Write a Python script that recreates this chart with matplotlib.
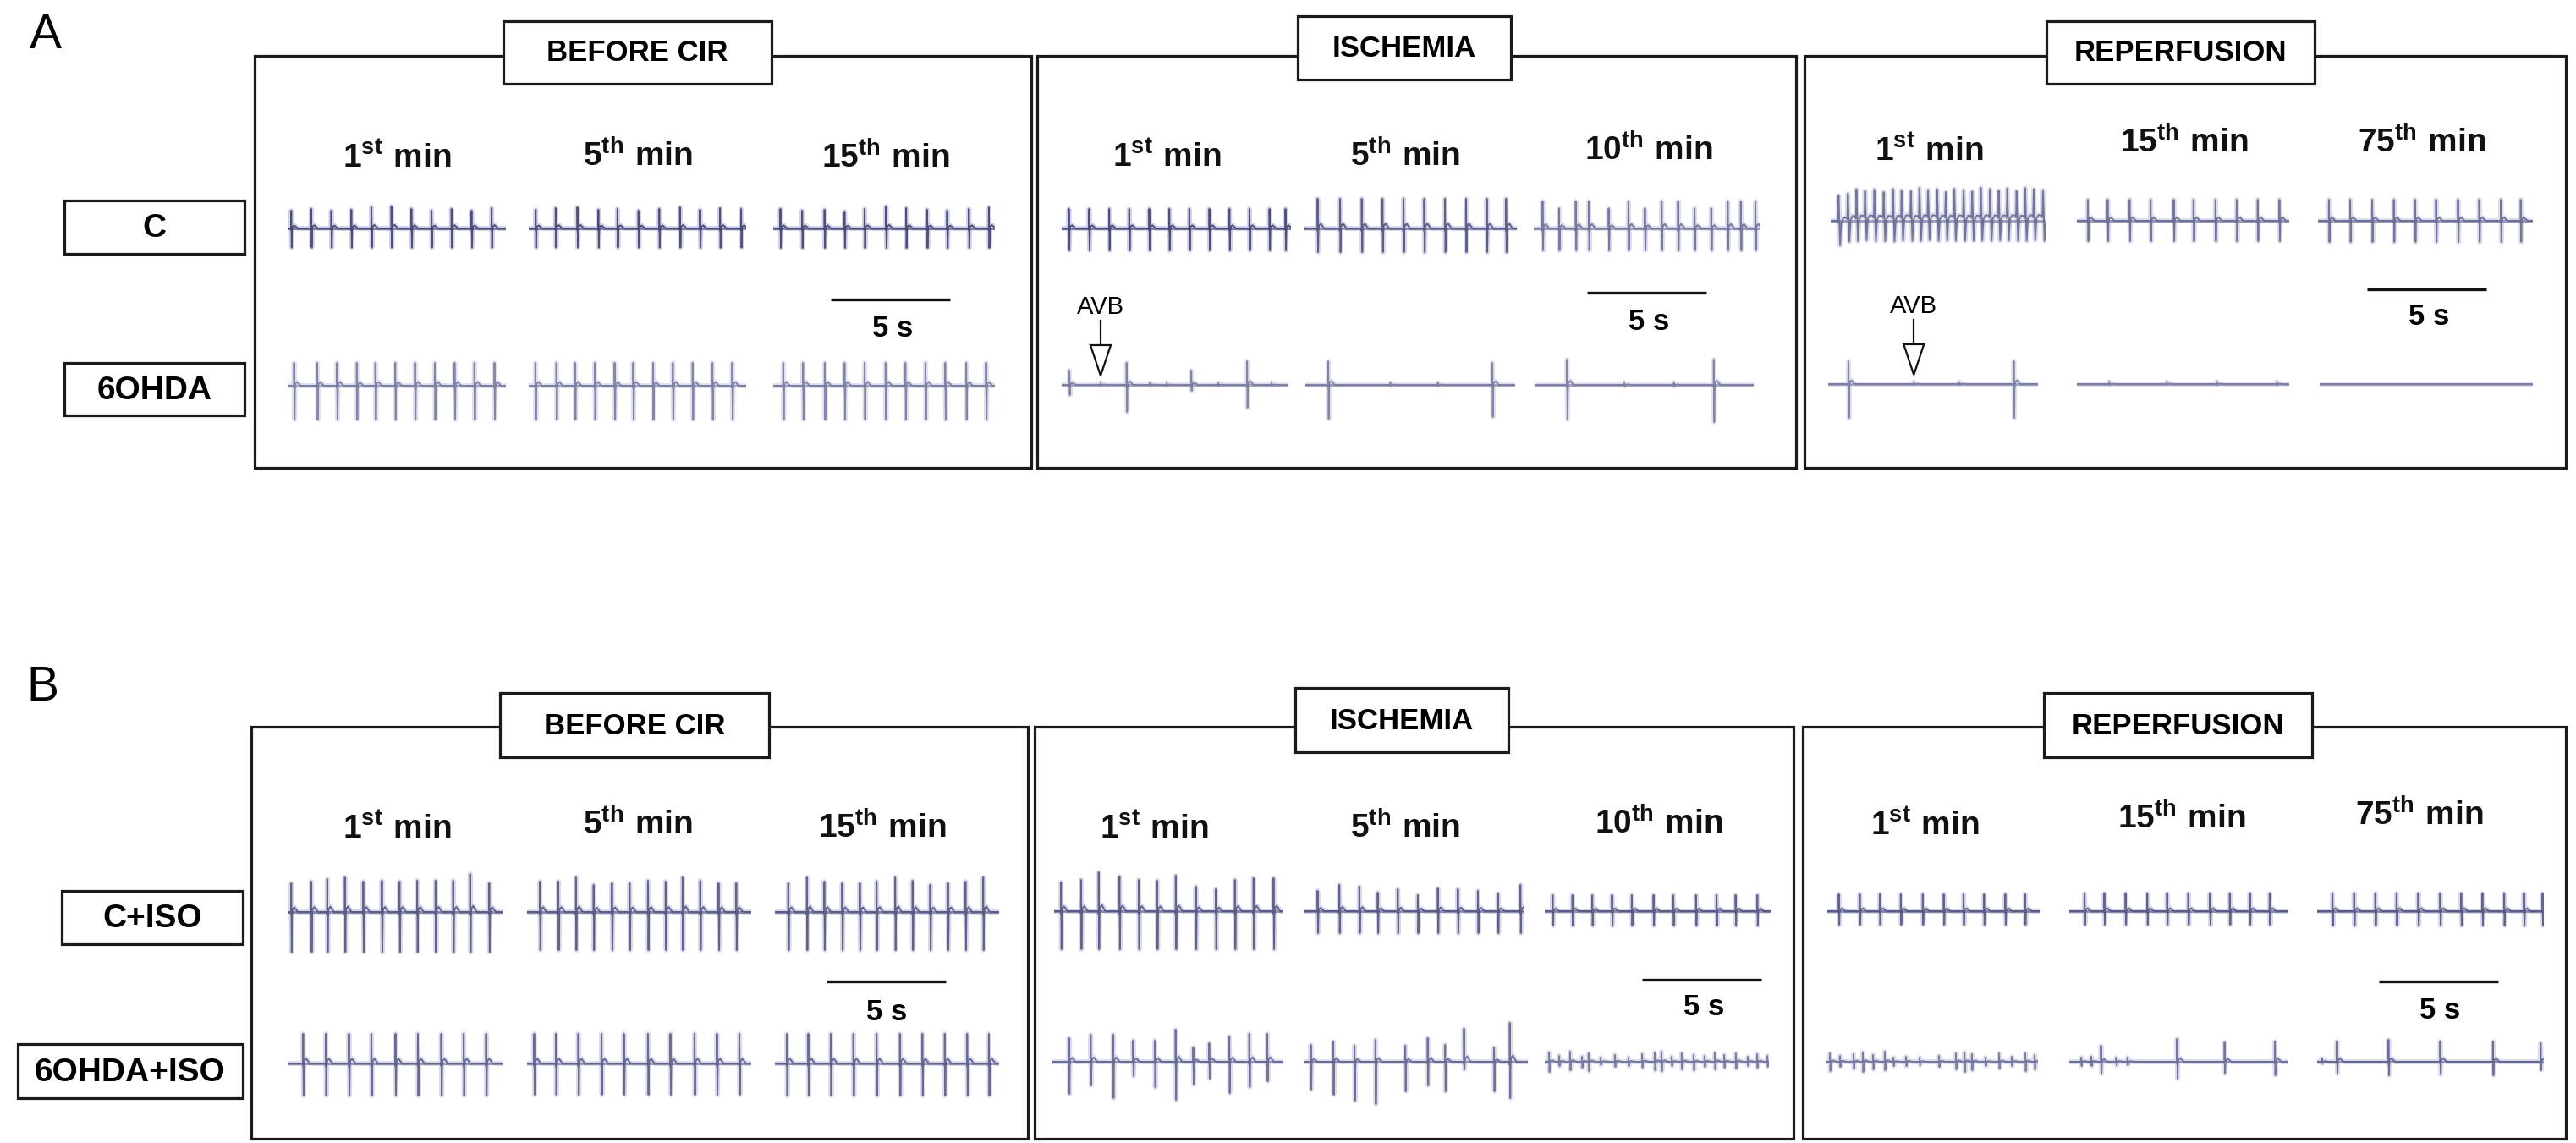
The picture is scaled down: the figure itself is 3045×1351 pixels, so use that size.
import numpy as np
import matplotlib
matplotlib.use('Agg')
import matplotlib.pyplot as plt
from matplotlib import font_manager
from matplotlib.patches import Rectangle, Polygon

# fonts: narrow bold for the headers if we have it
names = {f.name for f in font_manager.fontManager.ttflist}
NARROW = 'Liberation Sans Narrow' if 'Liberation Sans Narrow' in names else 'Liberation Sans'
plt.rcParams['font.family'] = ['Liberation Sans', 'DejaVu Sans']
plt.rcParams['mathtext.fontset'] = 'custom'
plt.rcParams['mathtext.rm'] = NARROW
plt.rcParams['mathtext.bf'] = NARROW + ':bold'

# ---------------- data ----------------
phases = ['BEFORE CIR', 'ISCHEMIA', 'REPERFUSION']
minutes = [('1', 'st'), ('5', 'th'), ('15', 'th'),
           ('1', 'st'), ('5', 'th'), ('10', 'th'),
           ('1', 'st'), ('15', 'th'), ('75', 'th')]
groups_a = ['C', '6OHDA']
groups_b = ['C+ISO', '6OHDA+ISO']
scale_bar_s = 5
avb_marks = [(3, 1.63), (6, 3.59)]   # (trace index in 6OHDA row, time s)

# recording window of each trace (s)
dur_a_c = [9.15, 9.1, 9.3, 9.6, 8.9, 9.5, 9.0, 8.9, 9.0]
dur_a_6 = [9.15, 9.1, 9.3, 9.5, 8.8, 9.2, 8.8, 8.9, 8.95]
dur_b_c = [9.0, 9.4, 9.4, 9.6, 9.2, 9.5, 8.9, 9.2, 9.5]
dur_b_6 = [9.0, 9.4, 9.4, 9.7, 9.4, 9.4, 8.9, 9.2, 9.5]

# beat times (s), R and S amplitudes (mV) per trace
beats_a_c = [
    [0.15, 0.99, 1.83, 2.67, 3.51, 4.35, 5.19, 6.03, 6.87, 7.71, 8.55],
    [0.29, 1.13, 2.04, 2.92, 3.72, 4.60, 5.47, 6.34, 7.18, 8.02, 8.90],
    [0.30, 1.21, 2.15, 2.99, 3.83, 4.73, 5.57, 6.45, 7.29, 8.20, 9.04],
    [0.30, 1.15, 1.99, 2.83, 3.67, 4.51, 5.35, 6.19, 7.03, 7.87, 8.71, 9.38],
    [0.55, 1.49, 2.40, 3.27, 4.15, 5.02, 5.89, 6.77, 7.64, 8.45],
    [0.37, 1.06, 1.76, 2.31, 3.14, 3.97, 4.66, 5.36, 6.05, 6.74, 7.44, 8.13, 8.68, 9.29],
    [0.33, 0.72, 1.08, 1.44, 1.83, 2.22, 2.61, 2.97, 3.36, 3.72, 4.08, 4.46,
     4.82, 5.18, 5.57, 5.93, 6.29, 6.68, 7.04, 7.40, 7.79, 8.15, 8.51, 8.90],
    [0.46, 1.29, 2.21, 3.09, 4.06, 4.89, 5.81, 6.70, 7.58, 8.49],
    [0.46, 1.35, 2.27, 3.18, 4.07, 4.95, 5.87, 6.76, 7.67, 8.50],
]
r_a_c = [[0.42, 0.46, 0.42, 0.44, 0.50, 0.52, 0.46, 0.42, 0.46, 0.42, 0.48],
         [0.44, 0.48, 0.50, 0.44, 0.46, 0.42, 0.46, 0.50, 0.44, 0.48, 0.46],
         [0.46, 0.42, 0.44, 0.40, 0.46, 0.52, 0.48, 0.44, 0.42, 0.46, 0.50],
         0.46, 0.70,
         [0.64, 0.47, 0.64, 0.64, 0.47, 0.64, 0.47, 0.64, 0.64, 0.47, 0.47, 0.64, 0.64, 0.64],
         [0.60, 0.55, 0.64, 0.58, 0.62, 0.56, 0.64, 0.60, 0.58, 0.66, 0.60, 0.62,
          0.56, 0.64, 0.60, 0.58, 0.66, 0.62, 0.60, 0.64, 0.58, 0.66, 0.62, 0.60],
         0.50, 0.50]
s_a_c = [0.45, 0.45, 0.46, 0.52, 0.56, 0.52, 0.58, 0.48, 0.50]

beats_a_6 = [
    [0.27, 1.24, 2.07, 2.90, 3.68, 4.51, 5.34, 6.17, 7.00, 7.83, 8.67],
    [0.28, 1.16, 1.94, 2.77, 3.60, 4.38, 5.21, 6.04, 6.87, 7.70, 8.53],
    [0.42, 1.25, 2.16, 2.99, 3.83, 4.71, 5.54, 6.38, 7.21, 8.09, 8.92],
    [0.32, 1.63, 2.72, 3.70, 4.40, 5.43, 6.55, 7.77, 8.80],
    [0.96, 3.56, 5.55, 7.84],
    [1.36, 3.76, 5.84, 7.51],
    [0.85, 3.59, 5.48, 7.78],
    [1.35, 3.76, 5.86, 8.38],
    [],
]
r_a_6 = [0.54, 0.54, 0.54,
         [0.34, 0.06, 0.52, 0.05, 0.05, 0.34, 0.05, 0.56, 0.05],
         [0.56, 0.05, 0.05, 0.52],
         [0.60, 0.06, 0.06, 0.60],
         [0.54, 0.05, 0.05, 0.54],
         [0.06, 0.06, 0.06, 0.06],
         0.0]
s_a_6 = [0.80, 0.80, 0.80,
         [0.24, 0.02, 0.64, 0.02, 0.02, 0.14, 0.02, 0.54, 0.02],
         [0.80, 0.02, 0.02, 0.76],
         [0.82, 0.03, 0.03, 0.88],
         [0.80, 0.02, 0.02, 0.80],
         [0.02, 0.02, 0.02, 0.02],
         0.0]

beats_b_c = [
    [0.15, 0.99, 1.66, 2.40, 3.17, 3.95, 4.69, 5.43, 6.20, 6.94, 7.65, 8.45],
    [0.54, 1.31, 2.05, 2.79, 3.56, 4.30, 5.07, 5.81, 6.52, 7.26, 8.03, 8.77],
    [0.56, 1.34, 2.07, 2.82, 3.56, 4.26, 5.04, 5.77, 6.51, 7.25, 7.99, 8.73],
    [0.29, 1.13, 1.87, 2.74, 3.55, 4.32, 5.10, 5.94, 6.78, 7.58, 8.36, 9.20],
    [0.55, 1.46, 2.30, 3.07, 3.91, 4.75, 5.59, 6.43, 7.27, 8.11, 9.05],
    [0.33, 1.16, 1.99, 2.82, 3.65, 4.56, 5.39, 6.34, 7.20, 8.00, 8.91],
    [0.48, 1.36, 2.20, 3.08, 4.00, 4.88, 5.71, 6.57, 7.46, 8.29],
    [0.64, 1.47, 2.36, 3.27, 4.10, 4.99, 5.90, 6.73, 7.57, 8.40],
    [0.64, 1.55, 2.44, 3.33, 4.24, 5.16, 6.04, 6.93, 7.84, 8.67, 9.45],
]
r_b_c = [[0.68, 0.72, 0.78, 0.82, 0.72, 0.74, 0.72, 0.74, 0.74, 0.74, 0.90, 0.68],
         [0.72, 0.72, 0.82, 0.64, 0.68, 0.68, 0.74, 0.72, 0.82, 0.74, 0.68, 0.68],
         [0.68, 0.82, 0.72, 0.68, 0.68, 0.72, 0.82, 0.74, 0.64, 0.68, 0.72, 0.82],
         [0.68, 0.74, 0.92, 0.82, 0.74, 0.72, 0.84, 0.58, 0.52, 0.74, 0.78, 0.78],
         [0.48, 0.62, 0.58, 0.44, 0.52, 0.38, 0.54, 0.52, 0.48, 0.42, 0.62],
         0.38, 0.40, 0.42, 0.42]
s_b_c = [0.95, 0.90, 0.90, 0.90, 0.52, 0.34, 0.32, 0.32, 0.34]

beats_b_6 = [
    [0.65, 1.60, 2.57, 3.51, 4.52, 5.46, 6.44, 7.38, 8.32],
    [0.30, 1.21, 2.15, 3.12, 4.06, 5.07, 6.01, 7.02, 7.96, 8.90],
    [0.50, 1.40, 2.34, 3.29, 4.26, 5.24, 6.18, 7.12, 8.06, 8.97],
    [0.73, 1.64, 2.58, 3.42, 4.33, 5.20, 5.94, 6.61, 7.45, 8.29, 9.04],
    [0.30, 1.24, 2.13, 3.01, 4.26, 5.20, 5.93, 6.72, 7.98, 8.64],
    [0.18, 0.60, 1.06, 1.56, 1.84, 2.34, 2.94, 3.51, 4.08, 4.61, 4.89,
     5.32, 5.74, 6.24, 6.70, 7.13, 7.52, 8.01, 8.51, 8.90, 9.33],
    [0.18, 0.60, 1.17, 1.56, 1.99, 2.48, 2.84, 3.37, 3.94, 4.75, 5.46,
     5.82, 6.13, 6.70, 7.27, 7.80, 8.37, 8.76],
    [0.50, 0.92, 1.33, 1.97, 2.44, 4.52, 6.51, 8.62],
    [0.20, 0.83, 2.99, 5.16, 7.37, 9.37],
]
r_b_6 = [0.70, 0.70, 0.70,
         [0.56, 0.64, 0.64, 0.50, 0.50, 0.76, 0.34, 0.44, 0.60, 0.66, 0.66],
         [0.40, 0.48, 0.38, 0.52, 0.38, 0.56, 0.40, 0.78, 0.34, 0.92],
         [0.22, 0.14, 0.24, 0.12, 0.20, 0.10, 0.16, 0.10, 0.18, 0.22, 0.24,
          0.12, 0.20, 0.16, 0.14, 0.22, 0.16, 0.20, 0.12, 0.18, 0.14],
         [0.20, 0.14, 0.18, 0.22, 0.16, 0.24, 0.10, 0.12, 0.10, 0.14, 0.20,
          0.22, 0.18, 0.10, 0.20, 0.12, 0.20, 0.16],
         [0.10, 0.12, 0.38, 0.10, 0.10, 0.54, 0.46, 0.48],
         [0.08, 0.48, 0.52, 0.48, 0.48, 0.44]]
s_b_6 = [0.76, 0.74, 0.76,
         [0.76, 0.56, 0.86, 0.34, 0.60, 0.90, 0.54, 0.40, 0.74, 0.60, 0.46],
         [0.66, 0.78, 0.92, 1.00, 0.70, 0.56, 0.70, 0.18, 0.70, 0.86],
         [0.24, 0.10, 0.20, 0.14, 0.22, 0.08, 0.12, 0.10, 0.14, 0.20, 0.22,
          0.10, 0.18, 0.20, 0.12, 0.18, 0.14, 0.16, 0.10, 0.14, 0.12],
         [0.22, 0.12, 0.16, 0.24, 0.18, 0.20, 0.10, 0.10, 0.08, 0.12, 0.18,
          0.24, 0.20, 0.10, 0.16, 0.10, 0.22, 0.18],
         [0.10, 0.10, 0.28, 0.08, 0.08, 0.40, 0.28, 0.32],
         [0.04, 0.28, 0.32, 0.30, 0.32, 0.20]]

# ---------------- layout (pixels of the 3045x1351 canvas) ----------------
W, H = 3045, 1351
PX_PER_S = 28.2
PX_PER_MV = 50.0
HALF = 70

frames_a = [(301, 1219), (1226, 2123), (2133, 3033)]
frames_b = [(297, 1215), (1223, 2120), (2131, 3033)]
frame_y_a = (66, 553)
frame_y_b = (859, 1346)
titles_a = [(595, 912, 25, 99), (1534, 1786, 19, 94), (2419, 2736, 25, 99)]
titles_b = [(591, 909, 819, 895), (1531, 1783, 813, 889), (2416, 2733, 819, 895)]
lab_x_a = [469, 754, 1047, 1379, 1661, 1949, 2280, 2582, 2863]
lab_y_a = [198, 197, 199, 197, 197, 190, 190, 181, 181]
lab_x_b = [469, 754, 1043, 1364, 1661, 1961, 2275, 2579, 2860]
lab_y_b = [991, 987, 991, 991, 991, 986, 987, 980, 976]
scales_a = [(982, 354, 1055, 389), (1876, 346, 1949, 380), (2798, 342, 2871, 374)]
scales_b = [(977, 1160, 1048, 1196), (1941, 1158, 2014, 1190), (2812, 1160, 2884, 1194)]
group_boxes_a = [(76, 289, 237, 300), (76, 289, 429, 491)]
group_boxes_b = [(73, 287, 1053, 1116), (21, 287, 1234, 1298)]

start_a_c = [340, 625, 914, 1255, 1542, 1813, 2164, 2455, 2740]
start_a_6 = [340, 625, 914, 1255, 1543, 1814, 2161, 2455, 2742]
start_b_c = [340, 623, 916, 1246, 1542, 1826, 2160, 2446, 2739]
start_b_6 = [340, 623, 916, 1243, 1541, 1826, 2158, 2446, 2739]
base_a_c = [270, 270, 270, 270, 270, 270, 261, 261, 261]
base_a_6 = [456, 456, 456, 455, 455, 455, 454, 454, 454]
base_b_c = [1078, 1078, 1078, 1077, 1077, 1077, 1077, 1077, 1077]
base_b_6 = [1257, 1257, 1257, 1255, 1255, 1255, 1255, 1255, 1255]

# trace tone: 0 dark, 1 pale; complex width factor
tone_a_c = [0, 0, 0, 0, 0.2, 0.55, 0.5, 0.5, 0.5]
tone_a_6 = [0.7] * 9
tone_b_c = [0.25] * 9
tone_b_6 = [0.35, 0.35, 0.35, 0.45, 0.45, 0.6, 0.6, 0.5, 0.4]
width_a_c = [1, 1, 1, 1, 1, 1, 3.2, 1, 1]

# beat template (offsets in s, weights of R and S)
SHAPE_T = np.array([-0.06, -0.02, -0.008, 0.0, 0.02, 0.035, 0.06, 0.13, 0.2, 0.28])
SHAPE_R = np.array([0, 0, -0.08, 1.0, 0, 0.06, 0.10, 0.16, 0.08, 0])
SHAPE_S = np.array([0, 0, 0, 0, -1.0, -0.15, 0, 0, 0, 0])


def ecg(times, r, s, dur, wf=1.0):
    r = np.broadcast_to(np.asarray(r, float), (len(times),))
    s = np.broadcast_to(np.asarray(s, float), (len(times),))
    kt = SHAPE_T * wf
    t = np.arange(0, dur + 1e-9, 0.01)
    for t0 in times:
        t = np.union1d(t, t0 + kt)
    t = t[(t >= 0) & (t <= dur)]
    v = np.zeros_like(t)
    for t0, ri, si in zip(times, r, s):
        v += np.interp(t, t0 + kt, SHAPE_R * ri + SHAPE_S * si, left=0, right=0)
    return t, v


def tone_colors(k):
    dark = np.array([0x40, 0x42, 0x70]) * (1 - k) + np.array([0x90, 0x93, 0xb5]) * k
    light = np.array([0x9c, 0x9f, 0xcc]) * (1 - k) + np.array([0xc8, 0xca, 0xe0]) * k
    return dark / 255, light / 255


fig = plt.figure(figsize=(W / 100, H / 100), dpi=100)
ax = fig.add_axes([0, 0, 1, 1])
ax.set_xlim(0, W)
ax.set_ylim(H, 0)
ax.axis('off')

LW = 2.3


def box(x0, x1, y0, y1, fill=False, z=2):
    ax.add_patch(Rectangle((x0, y0), x1 - x0, y1 - y0, fill=fill, facecolor='white',
                           edgecolor='#1a1a1a', lw=LW, zorder=z))


def draw_trace(x0, yb, dur, times, r, s, tone, wf=1.0):
    tax = fig.add_axes([x0 / W, 1 - (yb + HALF) / H, dur * PX_PER_S / W, 2 * HALF / H])
    tax.set_xlim(0, dur)
    tax.set_ylim(-HALF / PX_PER_MV, HALF / PX_PER_MV)
    tax.axis('off')
    tax.patch.set_alpha(0)
    t, v = ecg(times, r, s, dur, wf)
    dark, light = tone_colors(tone)
    tax.plot(t, v, color=light, lw=4.2, alpha=0.45, solid_joinstyle='round')
    tax.plot(t, v, color=dark, lw=1.4, alpha=0.9, solid_joinstyle='round')
    tax.plot([0, dur], [0, 0], color=dark, lw=2.2, alpha=0.6)


def panel(frames, fy, titles, lab_x, lab_y, scales, gboxes, groups, rows):
    for (x0, x1), (tx0, tx1, ty0, ty1), name in zip(frames, titles, phases):
        box(x0, x1, fy[0], fy[1])
        box(tx0, tx1, ty0, ty1, fill=True, z=3)
        ax.text((tx0 + tx1) / 2, (ty0 + ty1) / 2 + 1, name, ha='center', va='center',
                fontsize=25, fontweight='bold', family=[NARROW, 'DejaVu Sans'], zorder=4)
    for (num, sup), x, y in zip(minutes, lab_x, lab_y):
        ax.text(x, y, rf'$\mathbf{{{num}^{{{sup}}}\ min}}$', ha='center', va='baseline',
                fontsize=28, color='#111111')
    for bx, by, lx, ly in scales:
        ax.plot([bx, bx + scale_bar_s * PX_PER_S], [by, by], color='#111111', lw=2.4,
                solid_capstyle='butt')
        ax.text(lx, ly, f'{scale_bar_s} s', ha='center', va='center', fontsize=25,
                fontweight='bold', family=[NARROW, 'DejaVu Sans'])
    for (x0, x1, y0, y1), g in zip(gboxes, groups):
        box(x0, x1, y0, y1)
        ax.text((x0 + x1) / 2, (y0 + y1) / 2 + 2, g, ha='center', va='center',
                fontsize=28, fontweight='bold')
    for starts, bases, durs, bts, rs, ss, tones, wfs in rows:
        for i in range(9):
            draw_trace(starts[i], bases[i], durs[i], bts[i], rs[i], ss[i], tones[i], wfs[i])


panel(frames_a, frame_y_a, titles_a, lab_x_a, lab_y_a, scales_a, group_boxes_a, groups_a,
      [(start_a_c, base_a_c, dur_a_c, beats_a_c, r_a_c, s_a_c, tone_a_c, width_a_c),
       (start_a_6, base_a_6, dur_a_6, beats_a_6, r_a_6, s_a_6, tone_a_6, [1] * 9)])
panel(frames_b, frame_y_b, titles_b, lab_x_b, lab_y_b, scales_b, group_boxes_b, groups_b,
      [(start_b_c, base_b_c, dur_b_c, beats_b_c, r_b_c, s_b_c, tone_b_c, [1] * 9),
       (start_b_6, base_b_6, dur_b_6, beats_b_6, r_b_6, s_b_6, tone_b_6, [1] * 9)])

# AVB arrows on the 6OHDA row of panel A
for idx, tm in avb_marks:
    xa = start_a_6[idx] + tm * PX_PER_S
    ya = base_a_6[idx]
    ax.text(xa, ya - 92, 'AVB', ha='center', va='center', fontsize=21)
    ax.plot([xa, xa], [ya - 76, ya - 47], color='#111111', lw=1.6)
    ax.add_patch(Polygon([[xa - 12, ya - 47], [xa + 12, ya - 47], [xa, ya - 11]],
                         closed=True, facecolor='white', edgecolor='#111111', lw=1.6, zorder=5))

# panel letters
ax.text(35, 57, 'A', fontsize=41, ha='left', va='baseline')
ax.text(31, 828, 'B', fontsize=41, ha='left', va='baseline')

fig.savefig('out.png', dpi=100)
